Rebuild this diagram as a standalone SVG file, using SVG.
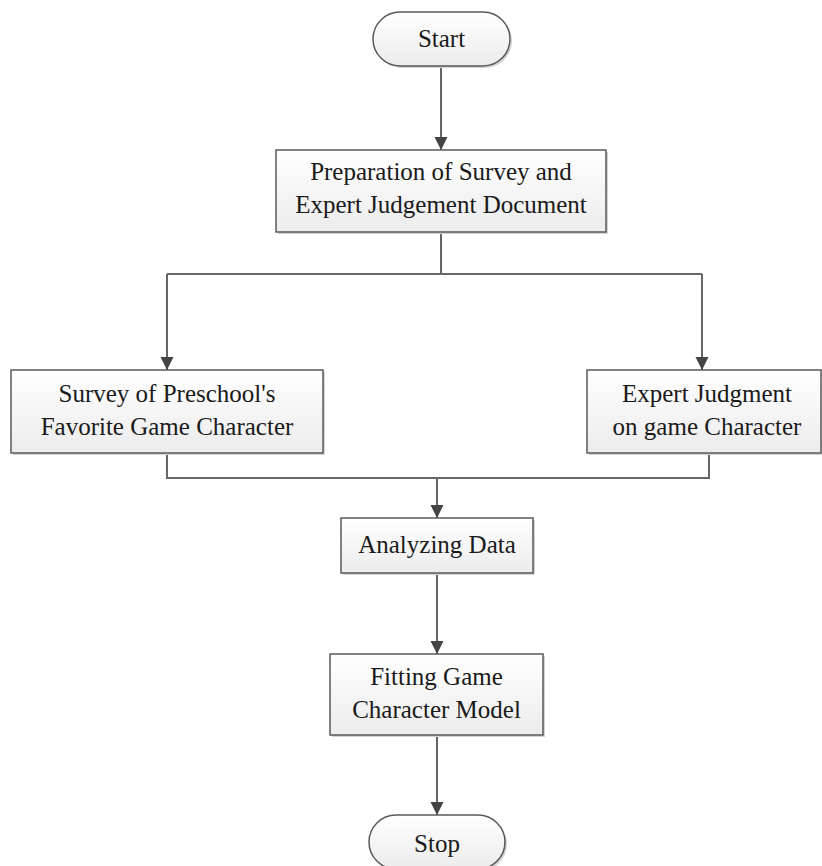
<svg xmlns="http://www.w3.org/2000/svg" width="822" height="866" viewBox="0 0 822 866">
<defs>
<linearGradient id="g" x1="0" y1="0" x2="0" y2="1">
<stop offset="0" stop-color="#ffffff"/>
<stop offset="1" stop-color="#ececec"/>
</linearGradient>
<marker id="arr" markerUnits="userSpaceOnUse" markerWidth="14" markerHeight="14" refX="13" refY="6.5" orient="auto">
<path d="M0,0 L13,6.5 L0,13 Z" fill="#444"/>
</marker>
</defs>
<style>
.box{fill:url(#g);stroke:#5a5a5a;stroke-width:1.5}
.sh{fill:#d4d4d4;stroke:none}
.t{font-family:"Liberation Serif","Times New Roman",serif;font-size:25px;fill:#1a1a1a;text-anchor:middle}
.c{fill:none;stroke:#666;stroke-width:2}
</style>
<rect width="822" height="866" fill="#ffffff"/>
<g id="connectors">
<path class="c" d="M441,66 V150" marker-end="url(#arr)"/>
<path class="c" d="M441,232 V274"/>
<path class="c" d="M167,274 H702"/>
<path class="c" d="M167,274 V370" marker-end="url(#arr)"/>
<path class="c" d="M702,274 V370" marker-end="url(#arr)"/>
<path class="c" d="M167,453 V478 H709 V453"/>
<path class="c" d="M437,478 V518" marker-end="url(#arr)"/>
<path class="c" d="M437,573 V654" marker-end="url(#arr)"/>
<path class="c" d="M437,735 V815" marker-end="url(#arr)"/>
</g>
<g id="start">
<rect class="sh" x="375" y="14" width="137" height="54" rx="27"/>
<rect class="box" x="373" y="12" width="137" height="54" rx="27"/>
<text class="t" x="441.5" y="47">Start</text>
</g>
<g id="prep">
<rect class="sh" x="278" y="152" width="330" height="82"/>
<rect class="box" x="276" y="150" width="330" height="82"/>
<text class="t" x="441" y="180">Preparation of Survey and</text>
<text class="t" x="441" y="213">Expert Judgement Document</text>
</g>
<g id="survey">
<rect class="sh" x="13" y="372" width="312" height="83"/>
<rect class="box" x="11" y="370" width="312" height="83"/>
<text class="t" x="167" y="402">Survey of Preschool's</text>
<text class="t" x="167" y="435">Favorite Game Character</text>
</g>
<g id="expert">
<rect class="sh" x="589" y="372" width="234" height="83"/>
<rect class="box" x="587" y="370" width="234" height="83"/>
<text class="t" x="707" y="402">Expert Judgment</text>
<text class="t" x="707" y="435">on game Character</text>
</g>
<g id="analyze">
<rect class="sh" x="343" y="520" width="192" height="55"/>
<rect class="box" x="341" y="518" width="192" height="55"/>
<text class="t" x="437" y="553">Analyzing Data</text>
</g>
<g id="fit">
<rect class="sh" x="332" y="656" width="213" height="81"/>
<rect class="box" x="330" y="654" width="213" height="81"/>
<text class="t" x="436.5" y="685">Fitting Game</text>
<text class="t" x="436.5" y="718">Character Model</text>
</g>
<g id="stop">
<rect class="sh" x="371" y="817" width="136" height="54" rx="27"/>
<rect class="box" x="369" y="815" width="136" height="54" rx="27"/>
<text class="t" x="437" y="852">Stop</text>
</g>
</svg>
